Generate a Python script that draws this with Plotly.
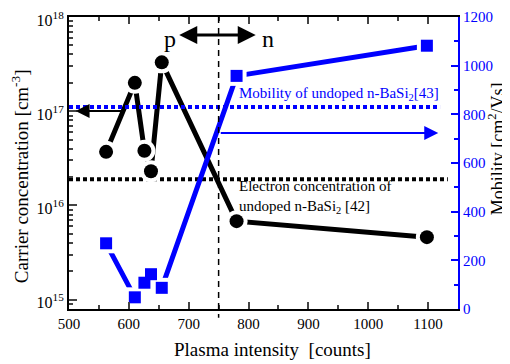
import numpy as np
import plotly.graph_objects as go

# ---- data ----
plasma_intensity = [562, 610, 626, 637, 655, 780, 1098]
carrier_conc = [3.7e16, 2.0e17, 3.8e16, 2.3e16, 3.3e17, 6.8e15, 4.6e15]
mobility = [270, 48, 108, 143, 87, 958, 1082]

undoped_mobility = 830          # [43]
undoped_conc = 1.9e16           # [42]
mob_ref_span = [500, 1120]
conc_ref_span = [500, 1133]
pn_boundary = 750

x_ticks = [500, 600, 700, 800, 900, 1000, 1100]
conc_ticks = [1e15, 1e16, 1e17, 1e18]
conc_ticklabels = ["10<sup>15</sup>", "10<sup>16</sup>", "10<sup>17</sup>", "10<sup>18</sup>"]
mob_ticks = [0, 200, 400, 600, 800, 1000, 1200]

BLUE = "#0000ff"
FONT = "Liberation Serif"

minor_log = [m * 10.0 ** e for e in (14, 15, 16, 17) for m in range(2, 10)]

fig = go.Figure()

# reference dotted lines
fig.add_trace(go.Scatter(x=conc_ref_span, y=[undoped_conc] * 2, mode="lines",
                         line=dict(color="black", width=4, dash="4px,3px"),
                         yaxis="y", showlegend=False, hoverinfo="skip"))
fig.add_trace(go.Scatter(x=mob_ref_span, y=[undoped_mobility] * 2, mode="lines",
                         line=dict(color=BLUE, width=4, dash="4px,3px"),
                         yaxis="y2", showlegend=False, hoverinfo="skip"))

# lines
fig.add_trace(go.Scatter(x=plasma_intensity, y=carrier_conc, mode="lines",
                         line=dict(color="black", width=5), yaxis="y",
                         showlegend=False, hoverinfo="skip"))
fig.add_trace(go.Scatter(x=plasma_intensity, y=mobility, mode="lines",
                         line=dict(color=BLUE, width=5), yaxis="y2",
                         showlegend=False, hoverinfo="skip"))
# white halos that open a gap between line and marker
fig.add_trace(go.Scatter(x=plasma_intensity, y=mobility, mode="markers",
                         marker=dict(symbol="square", size=20, color="white"),
                         yaxis="y2", showlegend=False, hoverinfo="skip"))
fig.add_trace(go.Scatter(x=plasma_intensity, y=carrier_conc, mode="markers",
                         marker=dict(symbol="circle", size=22, color="white"),
                         yaxis="y", showlegend=False, hoverinfo="skip"))
# markers
fig.add_trace(go.Scatter(x=plasma_intensity, y=carrier_conc, mode="markers",
                         marker=dict(symbol="circle", size=14, color="black"),
                         yaxis="y", showlegend=False))
fig.add_trace(go.Scatter(x=plasma_intensity, y=mobility, mode="markers",
                         marker=dict(symbol="square", size=12, color=BLUE),
                         yaxis="y2", showlegend=False))

# page body has an 8px margin, so the figure is offset by 8px; compensate here
fig.update_layout(
    width=502, height=356,
    margin=dict(l=61, r=52, t=9, b=55, autoexpand=False),
    paper_bgcolor="white", plot_bgcolor="white",
    font=dict(family=FONT, color="black", size=15),
    xaxis=dict(range=[500, 1150], tickvals=x_ticks, ticks="inside", ticklen=7,
               tickwidth=1.5, showline=True, linecolor="black", linewidth=2,
               mirror="ticks", showgrid=False, zeroline=False, automargin=False,
               ticklabeloverflow="allow",
               minor=dict(dtick=50, tick0=500, ticks="inside", ticklen=4, tickwidth=1.5),
               tickfont=dict(size=15)),
    yaxis=dict(type="log", range=[14.9, 18], tickvals=conc_ticks, ticktext=conc_ticklabels,
               ticks="inside", ticklen=8, tickwidth=1.5, showline=True, linecolor="black",
               linewidth=2, showgrid=False, zeroline=False, automargin=False,
               ticklabeloverflow="allow", ticklabelshift=3,
               minor=dict(tickvals=minor_log, ticks="inside", ticklen=4, tickwidth=1.5),
               tickfont=dict(size=16)),
    yaxis2=dict(overlaying="y", side="right", range=[0, 1200], tickvals=mob_ticks,
                ticks="inside", ticklen=7, tickwidth=1.5, tickcolor=BLUE,
                showline=True, linecolor=BLUE, linewidth=2, showgrid=False, zeroline=False,
                automargin=False, ticklabeloverflow="allow",
                minor=dict(dtick=100, ticks="inside", ticklen=4, tickwidth=1.5, tickcolor=BLUE),
                tickfont=dict(size=15, color=BLUE)),
)

# vertical dashed boundary
fig.add_shape(type="line", xref="x", yref="paper", x0=pn_boundary, x1=pn_boundary,
              y0=1.0, y1=-0.03, line=dict(color="black", width=1.5, dash="6px,5px"))

ann = []
# axis titles
ann.append(dict(x=-0.126, y=0.455, xref="paper", yref="paper", textangle=-90,
                text="Carrier concentration [cm<sup>-3</sup>]", showarrow=False,
                font=dict(size=19), xanchor="center", yanchor="middle"))
ann.append(dict(x=1.10, y=0.55, xref="paper", yref="paper", textangle=-90,
                text="Mobility [cm<sup>2</sup>/Vs]", showarrow=False,
                font=dict(size=18), xanchor="center", yanchor="middle"))
ann.append(dict(x=0.522, y=-0.14, xref="paper", yref="paper",
                text="Plasma intensity&nbsp; [counts]", showarrow=False,
                font=dict(size=19), xanchor="center", yanchor="middle"))
# p <-> n double arrow
ann.append(dict(x=812, y=0.938, xref="x", yref="paper", ax=-78, ay=0, axref="pixel", ayref="pixel",
                text="", showarrow=True, arrowhead=2, startarrowhead=2, arrowside="end+start",
                arrowsize=1.2, arrowwidth=3, arrowcolor="black"))
ann.append(dict(x=669, y=0.925, xref="x", yref="paper", text="p", showarrow=False,
                font=dict(size=24), xanchor="center", yanchor="middle"))
ann.append(dict(x=832, y=0.925, xref="x", yref="paper", text="n", showarrow=False,
                font=dict(size=24), xanchor="center", yanchor="middle"))
# left arrow -> left axis
ann.append(dict(x=511, y=np.log10(1.1e17) - 0.04, xref="x", yref="y", ax=47, ay=0,
                axref="pixel", ayref="pixel", text="", showarrow=True, arrowhead=2,
                arrowsize=1.4, arrowwidth=2, arrowcolor="black"))
# right arrow -> right axis
ann.append(dict(x=1117, y=723, xref="x", yref="y2", ax=-219, ay=0,
                axref="pixel", ayref="pixel", text="", showarrow=True, arrowhead=2,
                arrowsize=1.4, arrowwidth=2, arrowcolor=BLUE))
# texts
ann.append(dict(x=780, y=0.735, xref="x", yref="paper", xanchor="left", yanchor="middle",
                text="Mobility of undoped n-BaSi<sub>2</sub>[43]", showarrow=False,
                font=dict(size=15, color=BLUE)))
ann.append(dict(x=780, y=0.385, xref="x", yref="paper", xanchor="left", yanchor="middle",
                align="left", text="Electron concentration of<br>undoped n-BaSi<sub>2</sub> [42]",
                showarrow=False, font=dict(size=15, color="black")))
fig.update_layout(annotations=ann)

fig.write_html("out.html")
